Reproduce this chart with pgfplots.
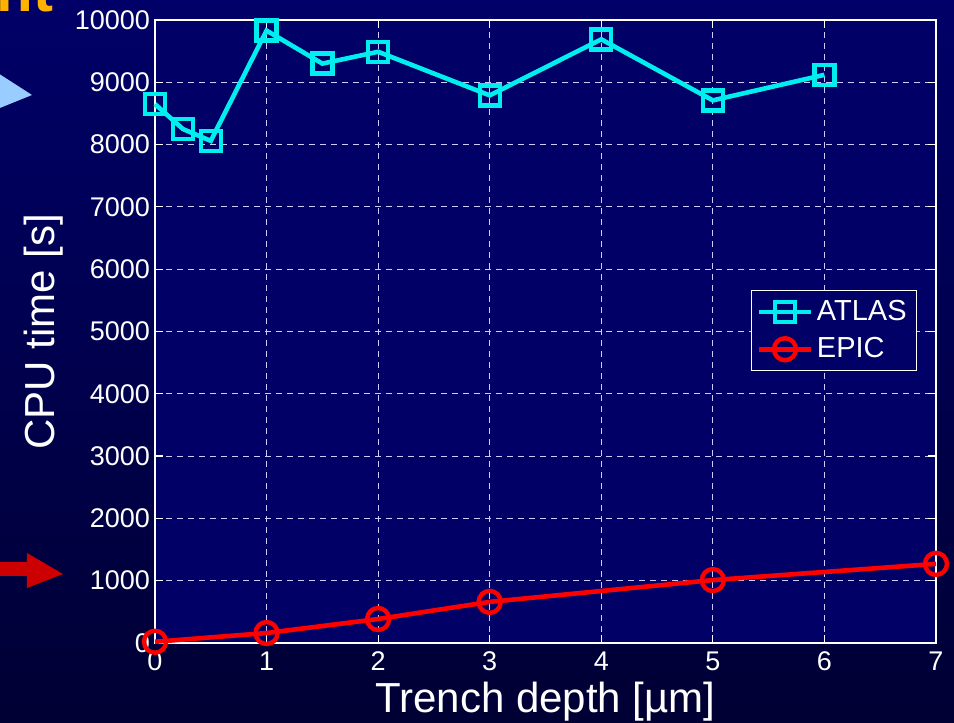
\documentclass[border=0pt]{standalone}
\usepackage{pgfplots}
\pgfplotsset{compat=1.18}
\usepackage{fontspec}
\setmainfont{Liberation Sans}
\definecolor{plotbg}{RGB}{0,0,102}
\definecolor{bgtop}{RGB}{0,0,104}
\definecolor{bgbot}{RGB}{0,0,52}
\definecolor{atlas}{RGB}{0,238,238}
\definecolor{epic}{RGB}{255,0,0}
\begin{document}
\begin{tikzpicture}
% background in image pixel coordinates (1px = 0.5pt), origin top-left of image
\begin{scope}[shift={(-77.5pt,321.5pt)}, x=0.5pt, y=-0.5pt]
  \shade[top color=bgtop, bottom color=bgbot] (0,0) rectangle (954,723);
  \path[use as bounding box] (0,0) rectangle (954,723);
  \begin{scope}
    \clip (0,0) rectangle (954,723);
    \node[anchor=base west, text=orange!60!yellow, font=\bfseries\fontsize{30}{30}\selectfont, inner sep=0pt] at (-4,12) {nt};
    \fill[color={rgb,255:red,153;green,204;blue,255}] (-10,68) -- (32,95) -- (-10,112) -- cycle;
    \fill[color={rgb,255:red,204;green,0;blue,0}] (-5,562) -- (27,562) -- (27,553) -- (63,574) -- (27,588) -- (27,576) -- (-5,576) -- cycle;
  \end{scope}
\end{scope}
\begin{axis}[
  scale only axis,
  width=390.5pt, height=311.5pt,
  at={(0,0)}, anchor=south west,
  xmin=0, xmax=7, ymin=0, ymax=10000,
  xtick={0,1,...,7},
  ytick={0,1000,...,10000},
  scaled y ticks=false,
  /pgf/number format/assume math mode=true,
  yticklabel style={/pgf/number format/fixed, /pgf/number format/1000 sep={}},
  axis background/.style={fill=plotbg},
  axis line style={white, line width=0.8pt},
  tick style={white, line width=0.6pt},
  major tick length=4pt,
  tick align=inside,
  grid=major,
  major grid style={white!80!blue, line width=0.5pt, dash pattern=on 3pt off 2.5pt},
  ticklabel style={text=white, font=\fontsize{13.5}{13.5}\selectfont},
  xticklabel style={yshift=-1pt},
  yticklabel style={xshift=1pt},
  label style={text=white, font=\fontsize{21}{21}\selectfont},
  xlabel={Trench depth [µm]},
  ylabel={CPU time [s]},
  xlabel style={yshift=1.5pt, overlay},
  ylabel style={yshift=-1pt},
  legend style={at={(0.976,0.567)}, anchor=north east, fill=plotbg, draw=white, text=white,
    font=\fontsize{14.5}{16}\selectfont, line width=0.6pt, inner xsep=3pt, inner ysep=3pt, row sep=3pt},
  legend image code/.code={\draw[mark repeat=2,mark phase=2] plot coordinates {(0cm,0cm) (0.45cm,0cm) (0.9cm,0cm)};},
  legend cell align=left,
  clip=false,
]
\addplot[atlas, line width=2.3pt, mark=square, mark size=5pt, mark options={line width=2.2pt, solid}]
  coordinates {(0,8650) (0.25,8250) (0.5,8060) (1,9830) (1.5,9300) (2,9490) (3,8790) (4,9690) (5,8710) (6,9120)};
\addlegendentry{ATLAS}
\addplot[epic, line width=2.3pt, mark=o, mark size=5.5pt, mark options={line width=2.2pt, solid}]
  coordinates {(0,20) (1,160) (2,385) (3,660) (5,1010) (7,1270)};
\addlegendentry{EPIC}
\end{axis}
\end{tikzpicture}
\end{document}
